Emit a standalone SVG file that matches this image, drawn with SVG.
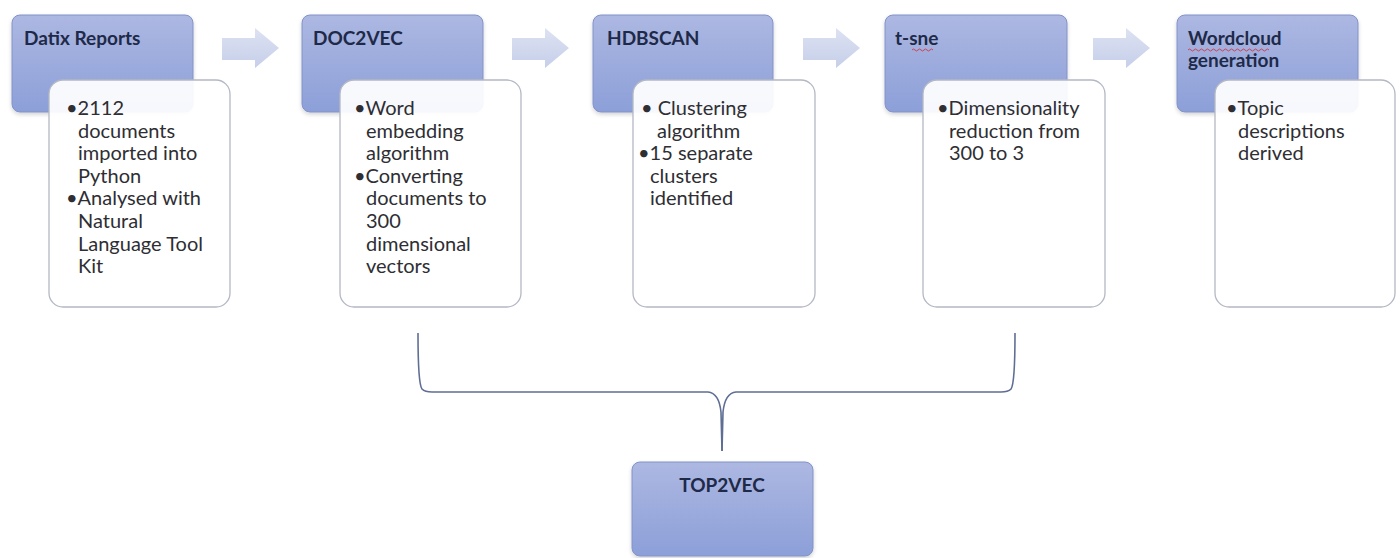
<svg xmlns="http://www.w3.org/2000/svg" width="1400" height="558" viewBox="0 0 1400 558">
  <defs>
    <linearGradient id="blueGrad" x1="0" y1="0" x2="0" y2="1">
      <stop offset="0" stop-color="#adb8e2"/>
      <stop offset="1" stop-color="#8c9fd8"/>
    </linearGradient>
    <linearGradient id="arrowGrad" x1="0" y1="0" x2="0" y2="1">
      <stop offset="0" stop-color="#dde2f2"/>
      <stop offset="1" stop-color="#c6cfea"/>
    </linearGradient>
    <filter id="shadow" x="-10%" y="-10%" width="130%" height="130%">
      <feGaussianBlur in="SourceAlpha" stdDeviation="2"/>
      <feOffset dx="0" dy="2" result="b"/>
      <feComponentTransfer><feFuncA type="linear" slope="0.18"/></feComponentTransfer>
      <feMerge><feMergeNode/><feMergeNode in="SourceGraphic"/></feMerge>
    </filter>
  </defs>
  <style>
    .blue { fill: url(#blueGrad); stroke: #8292c8; stroke-width: 1; filter: url(#shadow); }
    .white { fill: #ffffff; fill-opacity: 0.93; stroke: #b4b8c4; stroke-width: 1.3; }
    .arrow { fill: url(#arrowGrad); stroke: none; }
    .title { font-family: Lato, "Open Sans", "Liberation Sans", sans-serif; font-size: 19px; font-weight: bold; fill: #1e2a48; }
    .body { font-family: Lato, "Open Sans", "Liberation Sans", sans-serif; font-size: 20px; fill: #2e2e33; }
    .brace { fill: none; stroke: #5f6e94; stroke-width: 1.6; }
    .squiggle { fill: none; stroke: #d04050; stroke-width: 1; }
  </style>

  <rect width="1400" height="558" fill="#ffffff"/>

  <g id="connectors">
    <path class="arrow" d="M222,38 H255 V28 L279,48 L255,68 V60 H222 Z"/>
    <path class="arrow" d="M512,38 H545 V28 L569,48 L545,68 V60 H512 Z"/>
    <path class="arrow" d="M803,38 H836 V28 L860,48 L836,68 V60 H803 Z"/>
    <path class="arrow" d="M1093,38 H1126 V28 L1150,48 L1126,68 V60 H1093 Z"/>
    <path class="brace" d="M418,333 C418,365 419,385 422,389 Q425,392 432,392 L708,392 Q719,393 721,412 L722,451"/>
    <path class="brace" d="M1015,333 C1015,365 1014,385 1011,389 Q1008,392 1001,392 L736,392 Q725,393 723,412 L722,451"/>
  </g>

  <g id="node-datix">
    <rect class="blue" x="12" y="15" width="181" height="97" rx="8"/>
    <rect class="white" x="49" y="80" width="181" height="227" rx="14"/>
    <text class="title" x="24" y="45">Datix Reports</text>
    <text class="body" x="66" y="115">•2112</text>
    <text class="body" x="78" y="137.6">documents</text>
    <text class="body" x="78" y="160.2">imported into</text>
    <text class="body" x="78" y="182.8">Python</text>
    <text class="body" x="66" y="205.4">•Analysed with</text>
    <text class="body" x="78" y="228">Natural</text>
    <text class="body" x="78" y="250.6">Language Tool</text>
    <text class="body" x="78" y="273.2">Kit</text>
  </g>

  <g id="node-doc2vec">
    <rect class="blue" x="302" y="15" width="181" height="97" rx="8"/>
    <rect class="white" x="340" y="80" width="181" height="227" rx="14"/>
    <text class="title" x="313" y="45">DOC2VEC</text>
    <text class="body" x="354" y="115">•Word</text>
    <text class="body" x="366" y="137.6">embedding</text>
    <text class="body" x="366" y="160.2">algorithm</text>
    <text class="body" x="354" y="182.8">•Converting</text>
    <text class="body" x="366" y="205.4">documents to</text>
    <text class="body" x="366" y="228">300</text>
    <text class="body" x="366" y="250.6">dimensional</text>
    <text class="body" x="366" y="273.2">vectors</text>
  </g>

  <g id="node-hdbscan">
    <rect class="blue" x="593" y="15" width="180" height="97" rx="8"/>
    <rect class="white" x="633" y="80" width="182" height="227" rx="14"/>
    <text class="title" x="607" y="45">HDBSCAN</text>
    <text class="body" x="641" y="115">• Clustering</text>
    <text class="body" x="657" y="137.6">algorithm</text>
    <text class="body" x="638" y="160.2">•15 separate</text>
    <text class="body" x="650" y="182.8">clusters</text>
    <text class="body" x="650" y="205.4">identified</text>
  </g>

  <g id="node-tsne">
    <rect class="blue" x="885" y="15" width="182" height="97" rx="8"/>
    <rect class="white" x="923" y="80" width="182" height="227" rx="14"/>
    <text class="title" x="895" y="45">t-sne</text>
    <path class="squiggle" d="M912,50 q1.5,-2 3,0 t3,0 t3,0 t3,0 t3,0 t3,0 t3,0"/>
    <text class="body" x="937" y="115">•Dimensionality</text>
    <text class="body" x="949" y="137.6">reduction from</text>
    <text class="body" x="949" y="160.2">300 to 3</text>
  </g>

  <g id="node-wordcloud">
    <rect class="blue" x="1177" y="15" width="181" height="97" rx="8"/>
    <rect class="white" x="1215" y="80" width="180" height="227" rx="14"/>
    <text class="title" x="1188" y="45">Wordcloud</text>
    <path class="squiggle" d="M1188,50 q1.5,-2 3,0 t3,0 t3,0 t3,0 t3,0 t3,0 t3,0 t3,0 t3,0 t3,0 t3,0 t3,0 t3,0 t3,0 t3,0 t3,0 t3,0 t3,0 t3,0 t3,0 t3,0 t3,0 t3,0 t3,0 t3,0 t3,0 t3,0"/>
    <text class="title" x="1188" y="67">generation</text>
    <text class="body" x="1226" y="115">•Topic</text>
    <text class="body" x="1238" y="137.6">descriptions</text>
    <text class="body" x="1238" y="160.2">derived</text>
  </g>

  <g id="node-top2vec">
    <rect class="blue" x="632" y="462" width="181" height="94" rx="8"/>
    <text class="title" x="722" y="492" text-anchor="middle">TOP2VEC</text>
  </g>
</svg>
